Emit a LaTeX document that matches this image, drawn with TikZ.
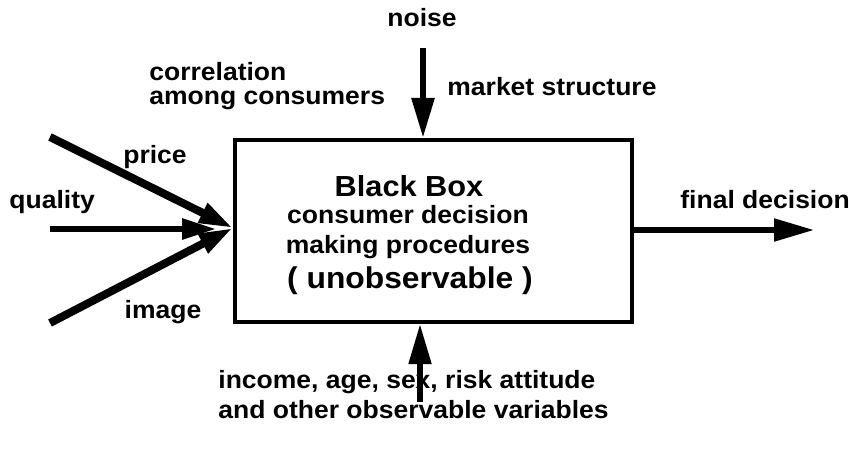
\documentclass[tikz,border=0pt]{standalone}
\usepackage{fontspec}
\setmainfont{Liberation Sans}[FakeStretch=1.06]
\usetikzlibrary{arrows.meta}
\tikzstyle{lbl}=[inner sep=0pt,font=\fontsize{12.5}{15}\selectfont\bfseries]
\tikzstyle{bbox}=[draw,line width=2.2pt,minimum width=198.5pt,minimum height=91pt,inner sep=0pt]
\tikzstyle{flow}=[-{Triangle[length=20pt,width=11pt]}]
\tikzstyle{inflow}=[-{Triangle[length=17pt,width=10pt]}]

\begin{document}
\begin{tikzpicture}[x=0.5pt,y=-0.5pt]
    \useasboundingbox (0,0) rectangle (850,449);
    \node[bbox] (box) at (433.5,231) {};

    % inputs from the left
    \coordinate (pr) at (50,137);
    \coordinate (ql) at (50,229);
    \coordinate (im) at (50,323);
    \coordinate (conv) at (233,228);
    \coordinate (qtip) at (216,229);
    \foreach \from/\to/\w in {pr/conv/4pt,ql/qtip/3pt,im/conv/4pt}
    \draw[inflow,line width=\w] (\from) -- (\to);

    \coordinate (ns) at (423,48);
    \coordinate (obs) at (420,402);
    \coordinate (out) at (814,230);
    \draw[flow,line width=3pt] (ns) -- (box.north -| ns);
    \draw[flow,line width=2.6pt] (obs) -- (box.south -| obs);
    \draw[flow,line width=2.6pt] (box.east |- out) -- (out);

    \node[lbl] (noise) at (422,18) {noise};
    \node[lbl,anchor=west,align=left] (corr) at (149,86) {correlation\\[-3pt]among consumers};
    \node[lbl,anchor=west] (mkt) at (447,87) {market structure};
    \node[lbl] (price) at (155,157) {price};
    \node[lbl,anchor=west] (qual) at (9,202) {quality};
    \node[lbl] (image) at (163,312) {image};
    \node[lbl,anchor=west] (fin) at (680,200) {final decision};

    \node[lbl,font=\fontsize{14.5}{17}\selectfont\bfseries] (bb) at (409,186) {Black Box};
    \node[lbl,align=center] (proc) at (408,232) {consumer decision\\making procedures};
    \node[lbl,font=\fontsize{15}{18}\selectfont\bfseries] (unobs) at (410,281) {( unobservable )};

    \node[lbl,anchor=west,align=left] (vars) at (218,395) {income, age, sex, risk attitude\\and other observable variables};
\end{tikzpicture}
\end{document}
